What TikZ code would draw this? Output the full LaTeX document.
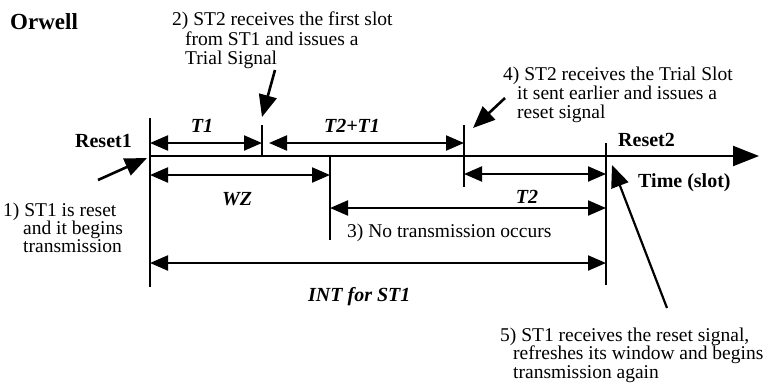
\documentclass[tikz,border=0pt]{standalone}
\usepackage{fontspec}
\setmainfont{Liberation Serif}
\usetikzlibrary{arrows.meta}
\begin{document}
\begin{tikzpicture}[x=1pt,y=-1pt,
  txt/.style={inner sep=0pt,anchor=base west,font=\fontsize{19.5}{19.5}\selectfont},
  lbl/.style={inner sep=0pt,anchor=base,font=\fontsize{20}{20}\selectfont\bfseries\itshape},
  bl/.style={inner sep=0pt,anchor=base west,font=\fontsize{20}{20}\selectfont\bfseries},
  ln/.style={line width=2.1pt},
  dimarrow/.style={line width=2.1pt,{Triangle[length=18pt,width=15pt]}-{Triangle[length=18pt,width=15pt]}},
  ptr/.style={line width=2.6pt,-{Triangle[length=22pt,width=18pt]}}]
\useasboundingbox (0,0) rectangle (765,383);
% title
\node[inner sep=0pt,anchor=base west,font=\fontsize{23}{23}\selectfont\bfseries] (title) at (10,29) {Orwell};
% coordinates
\coordinate (v1t) at (150,118); \coordinate (v1b) at (150,287);
\coordinate (v2t) at (262,125); \coordinate (v2b) at (262,156);
\coordinate (v3t) at (330,156); \coordinate (v3b) at (330,240);
\coordinate (v4t) at (464,125); \coordinate (v4b) at (464,187);
\coordinate (v5t) at (606,143); \coordinate (v5b) at (606,285);
\coordinate (tl0) at (150,156); \coordinate (tl1) at (759,156);
% timeline
\draw[line width=2.4pt,-{Triangle[length=26pt,width=20pt]}] (tl0) -- (tl1);
% verticals
\draw[ln] (v1t) -- (v1b);
\draw[ln] (v2t) -- (v2b);
\draw[ln] (v3t) -- (v3b);
\draw[ln] (v4t) -- (v4b);
\draw[ln] (v5t) -- (v5b);
% dimension arrows
\coordinate (a1l) at (150,143); \coordinate (a1r) at (262,143);
\coordinate (a2l) at (269,143); \coordinate (a2r) at (464,143);
\coordinate (a3l) at (150,175); \coordinate (a3r) at (330,175);
\coordinate (a4l) at (464,174); \coordinate (a4r) at (606,174);
\coordinate (a5l) at (330,208); \coordinate (a5r) at (606,208);
\coordinate (a6l) at (150,263); \coordinate (a6r) at (606,263);
\draw[dimarrow] (a1l) -- (a1r);
\draw[dimarrow] (a2l) -- (a2r);
\draw[dimarrow] (a3l) -- (a3r);
\draw[dimarrow] (a4l) -- (a4r);
\draw[dimarrow] (a5l) -- (a5r);
\draw[dimarrow] (a6l) -- (a6r);
% dimension labels
\node[lbl] (lT1) at (202,132) {T1};
\node[lbl] (lT2T1) at (352,132) {T2+T1};
\node[lbl] (lWZ) at (237,205) {WZ};
\node[lbl] (lT2) at (527,203) {T2};
\node[lbl,anchor=base west] (lINT) at (308,301) {INT for ST1};
\node[txt] (l3) at (347,237) {3) No transmission occurs};
% bold labels
\node[bl,anchor=base east] (r1) at (132,147) {Reset1};
\node[bl] (r2) at (618,146) {Reset2};
\node[bl] (ts) at (638,187) {Time (slot)};
% note 2
\node[txt] (n2a) at (172,25) {2) ST2 receives the first slot};
\node[txt] (n2b) at (185,45) {from ST1 and issues a};
\node[txt] (n2c) at (185,64) {Trial Signal};
% note 4
\node[txt] (n4a) at (503,80) {4) ST2 receives the Trial Slot};
\node[txt] (n4b) at (517,99) {it sent earlier and issues a};
\node[txt] (n4c) at (517,118) {reset signal};
% note 1
\node[txt] (n1a) at (3,216) {1) ST1 is reset};
\node[txt] (n1b) at (23,234) {and it begins};
\node[txt] (n1c) at (23,252) {transmission};
% note 5
\node[txt] (n5a) at (500,341) {5) ST1 receives the reset signal,};
\node[txt] (n5b) at (513,359) {refreshes its window and begins};
\node[txt] (n5c) at (513,378) {transmission again};
% pointer arrows
\coordinate (p1s) at (98,180); \coordinate (p1e) at (147,158);
\coordinate (p2s) at (275,70); \coordinate (p2e) at (262,117);
\coordinate (p4s) at (505,98); \coordinate (p4e) at (473,128);
\coordinate (p5s) at (667,308); \coordinate (p5e) at (612,165);
\draw[ptr] (p1s) -- (p1e);
\draw[ptr] (p2s) -- (p2e);
\draw[ptr] (p4s) -- (p4e);
\draw[line width=2.2pt,-{Triangle[length=22pt,width=18pt]}] (p5s) -- (p5e);
\end{tikzpicture}
\end{document}
